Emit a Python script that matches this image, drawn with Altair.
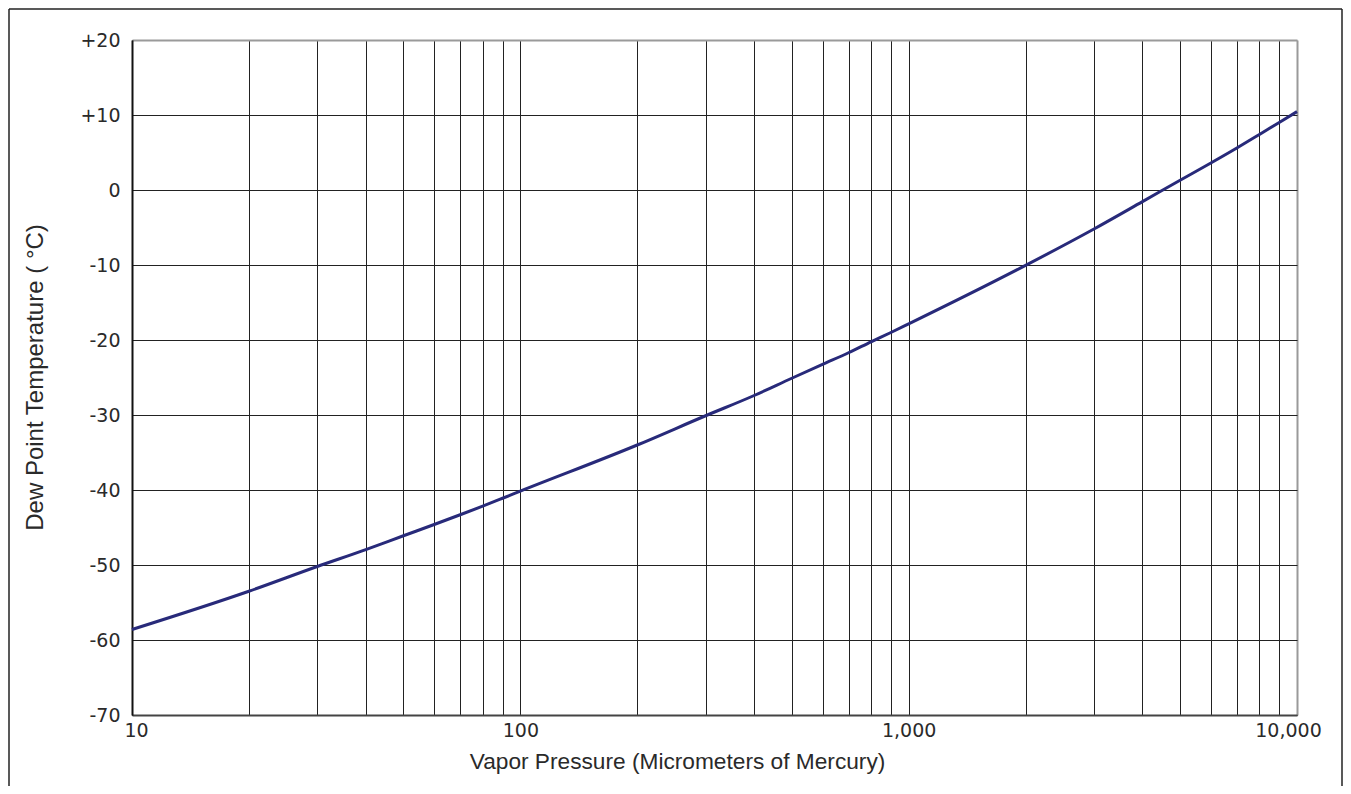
import altair as alt
import pandas as pd

# Vapor pressure (micrometers of mercury) vs dew point temperature (deg C)
pressure = [10, 20, 30, 40, 50, 60, 70, 80, 90,
            100, 200, 300, 400, 500, 600, 700, 800, 900,
            1000, 2000, 3000, 4000, 5000, 6000, 7000, 8000, 9000, 10000]
dew_point = [-58.6, -53.5, -50.2, -47.95, -46.1, -44.6, -43.3, -42.15, -41.1,
             -40.15, -34.0, -30.1, -27.4, -25.1, -23.25, -21.7, -20.25, -19.0,
             -17.85, -10.05, -5.2, -1.55, 1.3, 3.6, 5.6, 7.4, 9.0, 10.45]

x_grid = [10, 20, 30, 40, 50, 60, 70, 80, 90,
          100, 200, 300, 400, 500, 600, 700, 800, 900,
          1000, 2000, 3000, 4000, 5000, 6000, 7000, 8000, 9000, 10000]
x_labels = [10, 100, 1000, 10000]
y_ticks = [-70, -60, -50, -40, -30, -20, -10, 0, 10, 20]

df = pd.DataFrame({"pressure": pressure, "dew": dew_point})

LABEL_FONT = "DejaVu Sans"
TITLE_FONT = "Liberation Sans"
W, H = 1165, 675

x_enc = alt.X(
    "pressure:Q",
    scale=alt.Scale(type="log", domain=[10, 10000], nice=False),
    axis=alt.Axis(
        values=x_grid,
        labelExpr="indexof([10,100,1000,10000], datum.value) >= 0 ? format(datum.value, ',') : ''",
        labelFlush=False,
        labelOverlap=False,
        labelFont=LABEL_FONT,
        labelFontSize=19,
        labelColor="#2a2a2a",
        labelPadding=6,
        labelOffset={"condition": [{"test": "datum.value == 10", "value": 4},
                                   {"test": "datum.value == 10000", "value": -9}],
                     "value": 0},
        ticks=False,
        grid=True,
        gridColor={"condition": {"test": "datum.value >= 10000", "value": "#9a9a9a"}, "value": "#222222"},
        gridWidth={"condition": {"test": "datum.value >= 10000", "value": 2}, "value": 1},
        gridOpacity=1,
        domainColor="#444444",
        domainWidth=2,
        title="Vapor Pressure (Micrometers of Mercury)",
        titleFont=TITLE_FONT,
        titleFontSize=22.7,
        titleFontWeight="normal",
        titleColor="#2a2a2a",
        titleX=545,
        titleY=53,
        titleAlign="center",
        titleBaseline="alphabetic",
    ),
)

y_enc = alt.Y(
    "dew:Q",
    scale=alt.Scale(domain=[-70, 20], nice=False, zero=False),
    axis=alt.Axis(
        values=y_ticks,
        labelExpr="datum.value > 0 ? '+' + datum.value : '' + datum.value",
        labelFont=LABEL_FONT,
        labelFontSize=19,
        labelColor="#2a2a2a",
        labelPadding=12,
        ticks=False,
        grid=True,
        gridColor={"condition": {"test": "datum.value >= 20", "value": "#9a9a9a"}, "value": "#222222"},
        gridWidth={"condition": {"test": "datum.value >= 20", "value": 2}, "value": 1},
        gridOpacity=1,
        domainColor="#111111",
        domainWidth=2,
        title="Dew Point Temperature ( °C)",
        titleFont=TITLE_FONT,
        titleFontSize=24,
        titleFontWeight="normal",
        titleColor="#2a2a2a",
        titleAngle=270,
        titleX=-90,
        titleY=337,
        titleAlign="center",
        titleBaseline="alphabetic",
    ),
)

curve = alt.Chart(df).mark_line(
    color="#282a7a", strokeWidth=3, interpolate="monotone"
).encode(x=x_enc, y=y_enc)

frame_df = pd.DataFrame({"k": [0]})
frame_color = "#222222"
left_edge = alt.Chart(frame_df).mark_rule(color=frame_color, strokeWidth=1.5).encode(
    x=alt.value(-123), y=alt.value(-31), y2=alt.value(746)
)
top_edge = alt.Chart(frame_df).mark_rule(color=frame_color, strokeWidth=1.5).encode(
    x=alt.value(-123), x2=alt.value(1210), y=alt.value(-31)
)
right_edge = alt.Chart(frame_df).mark_rule(color=frame_color, strokeWidth=1.5).encode(
    x=alt.value(1210), y=alt.value(-31), y2=alt.value(746)
)

chart = (
    alt.layer(curve, left_edge, top_edge, right_edge)
    .properties(
        width=W,
        height=H,
        autosize=alt.AutoSizeParams(type="none"),
        padding={"left": 124, "top": 32, "right": 46, "bottom": 71},
    )
    .configure_view(stroke="#9a9a9a", strokeWidth=2)
    .configure(background="white")
)

chart.save("out.html", embed_options={"renderer": "svg", "actions": False})
